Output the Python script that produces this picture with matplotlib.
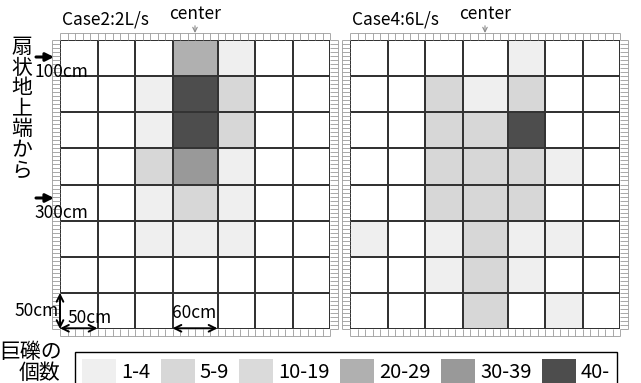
import numpy as np
import matplotlib
matplotlib.use("Agg")
import matplotlib.pyplot as plt
from matplotlib.colors import ListedColormap
from matplotlib.patches import Patch, FancyArrowPatch

plt.rcParams['font.family'] = ['Noto Sans CJK JP', 'DejaVu Sans']

# ── data ─────────────────────────────────────────────────────────────────────
col_widths = [50, 50, 50, 60, 50, 50, 50]      # cm, center column is 60cm
row_height = 50                                 # cm
n_rows = 8

level_labels = ["1-4", "5-9", "10-19", "20-29", "30-39", "40-"]
level_colors = ["#efefef", "#d7d7d7", "#dadada", "#b0b0b0", "#999999", "#4d4d4d"]

# 0 = no boulders, 1..6 = index into level_labels (+1)
case2 = [
    [0, 0, 0, 4, 1, 0, 0],
    [0, 0, 1, 6, 2, 0, 0],
    [0, 0, 1, 6, 2, 0, 0],
    [0, 0, 2, 5, 1, 0, 0],
    [0, 0, 1, 2, 1, 0, 0],
    [0, 0, 1, 1, 1, 0, 0],
    [0, 0, 0, 0, 0, 0, 0],
    [0, 0, 0, 0, 0, 0, 0],
]
case4 = [
    [0, 0, 0, 0, 1, 0, 0],
    [0, 0, 2, 1, 2, 0, 0],
    [0, 0, 2, 2, 6, 0, 0],
    [0, 0, 2, 2, 2, 1, 0],
    [0, 0, 2, 2, 2, 0, 0],
    [1, 0, 1, 2, 1, 1, 0],
    [0, 0, 1, 2, 1, 0, 0],
    [0, 0, 0, 2, 0, 1, 0],
]
titles = ["Case2:2L/s", "Case4:6L/s"]

# ── figure ───────────────────────────────────────────────────────────────────
W, H = 641, 383
fig = plt.figure(figsize=(W / 100, H / 100), dpi=100)
fig.patch.set_facecolor("white")


def fx(x):
    return x / W


def fy(y):
    return 1 - y / H


x_edges = np.concatenate([[0], np.cumsum(col_widths)])
y_edges = np.arange(n_rows + 1) * row_height
x_max, y_max = x_edges[-1], y_edges[-1]
xc = x_edges[3] + col_widths[3] / 2

cmap = ListedColormap(["white"] + level_colors)
rt = 9.7    # ruler thickness, cm (vertical)
rs = 10.7   # ruler thickness, cm (horizontal)
ruler_c = "#9a9a9a"


def draw_ruler(ax):
    kw = dict(colors=ruler_c, lw=0.6, clip_on=False)
    xt = np.arange(0, x_max + 1, 10)
    yt = np.arange(0, y_max + 0.1, row_height / 9)
    # top / bottom
    ax.hlines([-rt, y_max + rt], 0, x_max, **kw)
    ax.vlines(xt, -rt, 0, **kw)
    ax.vlines(xt, y_max, y_max + rt, **kw)
    # left / right
    ax.vlines([-rs, x_max + rs], 0, y_max, **kw)
    ax.hlines(yt, -rs, 0, **kw)
    ax.hlines(yt, x_max, x_max + rs, **kw)


axes = []
for i, (grid, title) in enumerate(zip([case2, case4], titles)):
    left = 60 if i == 0 else 350
    ax = fig.add_axes([fx(left), fy(329), 270 / W, 289 / H])
    ax.pcolormesh(x_edges, y_edges, np.array(grid), cmap=cmap,
                  vmin=-0.5, vmax=6.5, edgecolors="#333333", linewidth=1.2)
    ax.set_xlim(0, x_max)
    ax.set_ylim(y_max, 0)
    ax.axis("off")
    draw_ruler(ax)
    ax.annotate("center", xy=(xc, -rt), xytext=(xc, -36), ha="center",
                va="center", fontsize=12.5, annotation_clip=False,
                arrowprops=dict(arrowstyle="->", color="#8a8a8a", lw=0.8,
                                shrinkA=7, shrinkB=0, mutation_scale=8))
    fig.text(fx(left + 2), fy(20), title, fontsize=12.5, va="center")
    axes.append(ax)

ax1 = axes[0]

# scale arrows on the left grid
arr = dict(arrowstyle="<->", color="black", lw=1.4, shrinkA=0, shrinkB=0,
           mutation_scale=12)
ax1.annotate("", xy=(0, y_max - row_height), xytext=(0, y_max),
             arrowprops=arr, annotation_clip=False)
ax1.annotate("", xy=(0, y_max - 1), xytext=(x_edges[1], y_max - 1),
             arrowprops=arr, annotation_clip=False)
ax1.annotate("", xy=(x_edges[3], y_max - 1), xytext=(x_edges[4], y_max - 1),
             arrowprops=arr, annotation_clip=False)
fig.text(fx(14), fy(311), "50cm", fontsize=12.5, va="center")
fig.text(fx(67), fy(318), "50cm", fontsize=12.5, va="center")
fig.text(fx(172), fy(313), "60cm", fontsize=12.5, va="center")

# distance markers
for y_arrow, label in [(57, "100cm"), (198, "300cm")]:
    fig.patches.append(FancyArrowPatch(
        (fx(36), fy(y_arrow)), (fx(54), fy(y_arrow)), transform=fig.transFigure,
        arrowstyle="-|>", mutation_scale=12, lw=2.2, color="black",
        shrinkA=0, shrinkB=0))
    fig.text(fx(34), fy(y_arrow + 15), label, fontsize=12.5, va="center")

# vertical Japanese label
for k, ch in enumerate("扇状地上端から"):
    fig.text(fx(22), fy(47 + k * 20.6), ch, fontsize=15, ha="center",
             va="center")

fig.text(fx(-1), fy(352), "巨礫の", fontsize=15, va="center")
fig.text(fx(19), fy(373), "個数", fontsize=15, va="center")

# legend
handles = [Patch(facecolor=c, edgecolor="none") for c in level_colors]
leg = fig.legend(handles, level_labels, ncol=6, loc="upper left",
                 bbox_to_anchor=(fx(75), fy(352)), borderaxespad=0,
                 fontsize=14.5, frameon=True, fancybox=False, framealpha=1,
                 edgecolor="black", handlelength=1.7, handleheight=1.5,
                 handletextpad=0.25, columnspacing=0.5, borderpad=0.35)
leg.get_frame().set_linewidth(1.0)

fig.savefig("out.png", dpi=100, facecolor="white")
